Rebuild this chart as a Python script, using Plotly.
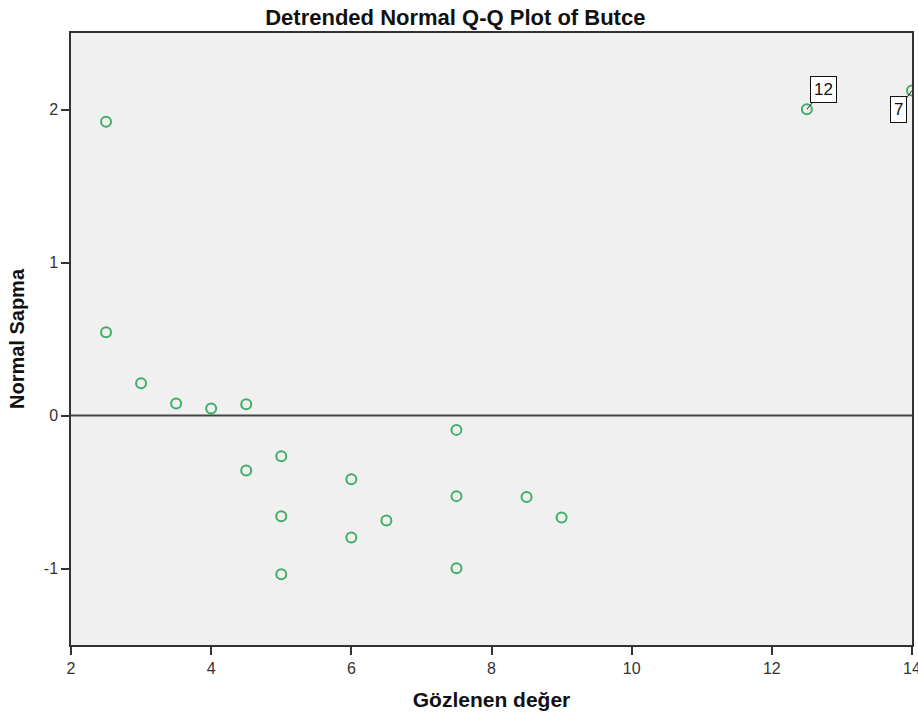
import plotly.graph_objects as go

# Observed values (x) and detrended normal deviations (y)
observed = [2.5, 2.5, 3.0, 3.5, 4.0, 4.5, 4.5, 5.0, 5.0, 5.0, 6.0, 6.0, 6.5,
            7.5, 7.5, 7.5, 8.5, 9.0, 12.5, 14.0]
deviation = [1.92, 0.544, 0.211, 0.078, 0.046, 0.074, -0.36, -0.266, -0.658, -1.037,
             -0.416, -0.797, -0.686, -0.094, -0.527, -0.998, -0.532, -0.667, 2.002, 2.124]

# Case labels shown on the chart
label_cases = ["12", "7"]
label_x = [12.5, 14.0]
label_y = [2.002, 2.124]

x_tickvals = [2, 4, 6, 8, 10, 12, 14]
x_ticktext = ["2", "4", "6", "8", "10", "12", "14"]
y_tickvals = [-1, 0, 1, 2]
y_ticktext = ["-1", "0", "1", "2"]

FONT = "Liberation Sans, Arial, sans-serif"
GREEN = "#3fae66"

fig = go.Figure()
fig.add_trace(go.Scatter(
    x=observed, y=deviation, mode="markers",
    marker=dict(symbol="circle-open", size=10, color=GREEN, line=dict(width=2, color=GREEN)),
    showlegend=False, hoverinfo="x+y",
))

label_offsets = [(17, -20), (-14, 19)]
for txt, lx, ly, (ax, ay) in zip(label_cases, label_x, label_y, label_offsets):
    fig.add_annotation(
        x=lx, y=ly, xref="x", yref="y", text=txt, showarrow=True,
        arrowhead=0, arrowwidth=1, arrowcolor="#222", ax=ax, ay=ay,
        font=dict(family=FONT, size=17, color="#111"),
        bgcolor="white", bordercolor="#111", borderwidth=1, borderpad=3,
    )

fig.update_layout(
    width=918, height=717,
    margin=dict(l=71, r=6, t=33, b=72, autoexpand=False),
    paper_bgcolor="white", plot_bgcolor="#f0f0f0",
    title=dict(text="<b>Detrended Normal Q-Q Plot of Butce</b>",
               x=0.496, xanchor="center", y=1 - 17 / 717, yanchor="middle",
               font=dict(family=FONT, size=22, color="#111")),
    font=dict(family=FONT, color="#222"),
    shapes=[dict(type="line", xref="paper", yref="y", x0=0, x1=1, y0=0, y1=0,
                 line=dict(color="#444", width=2))],
)

fig.update_xaxes(
    range=[2, 14], tickvals=x_tickvals, ticktext=x_ticktext,
    showgrid=False, zeroline=False, automargin=False,
    showline=True, linecolor="#333", linewidth=1.5, mirror=True,
    ticks="outside", ticklen=8, tickwidth=1.5, tickcolor="#333",
    ticklabeloverflow="allow",
    tickfont=dict(family=FONT, size=16, color="#333"),
    title=dict(text="<b>Gözlenen değer</b>", font=dict(family=FONT, size=21, color="#111"), standoff=16),
)
fig.update_yaxes(
    range=[-1.5, 2.5], tickvals=y_tickvals, ticktext=y_ticktext,
    showgrid=False, zeroline=False, automargin=False,
    showline=True, linecolor="#333", linewidth=1.5, mirror=True,
    ticks="outside", ticklen=8, tickwidth=1.5, tickcolor="#333",
    tickfont=dict(family=FONT, size=16, color="#333"),
    title=dict(text="<b>Normal Sapma</b>", font=dict(family=FONT, size=20, color="#111"), standoff=14),
)

fig.write_html("out.html")
